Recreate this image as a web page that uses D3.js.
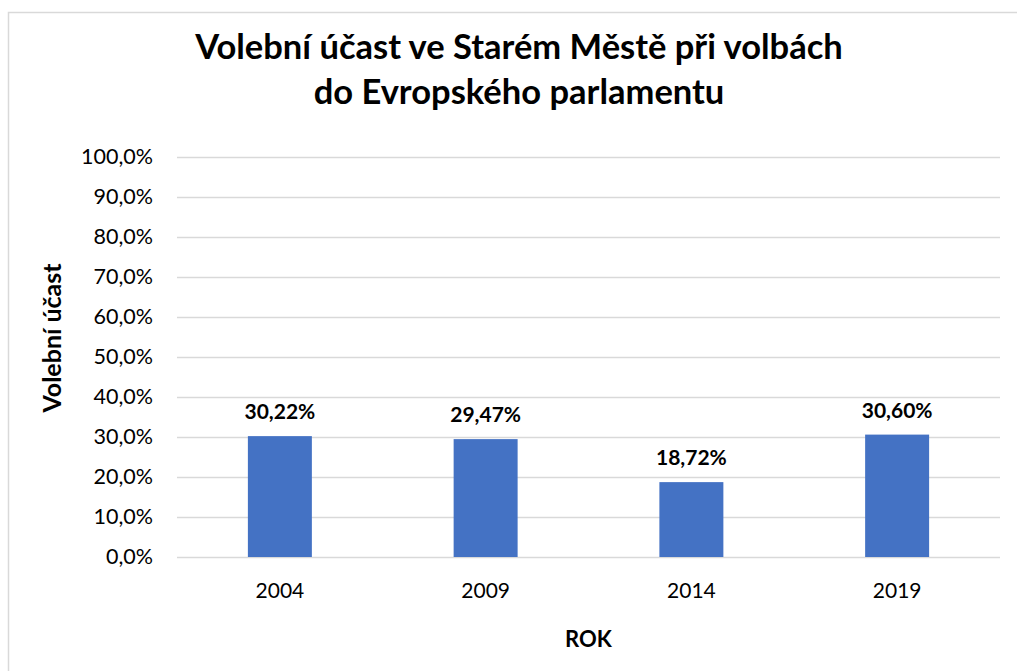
<!DOCTYPE html>
<html>
<head>
<meta charset="utf-8">
<script src="https://cdn.jsdelivr.net/npm/d3@7"></script>
<style>
  body { margin: 0; background: #fff; }
  svg { display: block; font-family: Lato, "Open Sans", sans-serif; }
</style>
</head>
<body>
<svg id="chart"></svg>
<script>
const years = ["2004", "2009", "2014", "2019"];
const turnout = [30.22, 29.47, 18.72, 30.6];
const yTicks = [0, 10, 20, 30, 40, 50, 60, 70, 80, 90, 100];
const titleLines = ["Volební účast ve Starém Městě při volbách", "do Evropského parlamentu"];

const W = 1017, H = 671;
const margin = { top: 157, right: 17, bottom: 114, left: 177 };
const width = W - margin.left - margin.right,
  height = H - margin.top - margin.bottom;

const root = d3.select("#chart").attr("width", W).attr("height", H);

// chart border
root.append("rect")
  .attr("x", 8.5).attr("y", 12.5)
  .attr("width", W).attr("height", H)
  .attr("fill", "none")
  .attr("stroke", "#d9d9d9")
  .attr("stroke-width", 1.5);

const svg = root.append("g")
  .attr("transform", `translate(${margin.left}, ${margin.top})`);

const x = d3.scaleBand().domain(years).range([0, width]).paddingInner(0.689).paddingOuter(0.3445);
const y = d3.scaleLinear().domain([0, 100]).range([height, 0]);

// gridlines
svg.append("g")
  .attr("class", "y-grid")
  .call(d3.axisLeft(y).tickValues(yTicks).tickSize(-width).tickFormat(""))
  .call((g) => g.select(".domain").remove())
  .call((g) => g.selectAll("line").attr("stroke", "#d9d9d9").attr("stroke-width", 1.3));

// y tick labels
svg.append("g")
  .call(d3.axisLeft(y).tickValues(yTicks).tickSize(0).tickPadding(24)
    .tickFormat((d) => d.toFixed(1).replace(".", ",") + "%"))
  .call((g) => g.select(".domain").remove())
  .call((g) => g.selectAll("text")
    .attr("font-size", 21.5).attr("fill", "#000").attr("font-family", "Lato"));

// bars
svg.selectAll("rect.bar")
  .data(turnout)
  .join("rect")
  .attr("class", "bar")
  .attr("x", (d, i) => x(years[i]))
  .attr("width", x.bandwidth())
  .attr("y", (d) => y(d))
  .attr("height", (d) => height - y(d))
  .attr("fill", "#4472c4");

// data labels
svg.selectAll("text.lbl")
  .data(turnout)
  .join("text")
  .attr("class", "lbl")
  .attr("x", (d, i) => x(years[i]) + x.bandwidth() / 2)
  .attr("y", (d) => y(d) - 17)
  .attr("text-anchor", "middle")
  .attr("font-size", 21)
  .attr("font-weight", "bold")
  .text((d) => d.toFixed(2).replace(".", ",") + "%");

// x axis labels
svg.append("g")
  .attr("transform", `translate(0, ${height})`)
  .call(d3.axisBottom(x).tickSize(0).tickPadding(26))
  .call((g) => g.select(".domain").remove())
  .call((g) => g.selectAll("text")
    .attr("font-size", 21).attr("fill", "#000").attr("font-family", "Lato"));

// axis titles
svg.append("text")
  .attr("x", width / 2)
  .attr("y", height + 90)
  .attr("text-anchor", "middle")
  .attr("font-size", 22)
  .attr("font-weight", "bold")
  .text("ROK");

svg.append("text")
  .attr("transform", `translate(${61 - margin.left}, ${338 - margin.top}) rotate(-90)`)
  .attr("text-anchor", "middle")
  .attr("font-size", 25)
  .attr("font-weight", "bold")
  .text("Volební účast");

// title
root.append("g")
  .selectAll("text")
  .data(titleLines)
  .join("text")
  .attr("x", 519)
  .attr("y", (d, i) => 59 + i * 45)
  .attr("text-anchor", "middle")
  .attr("font-size", 34.5)
  .attr("font-weight", "bold")
  .text((d) => d);
</script>
</body>
</html>
